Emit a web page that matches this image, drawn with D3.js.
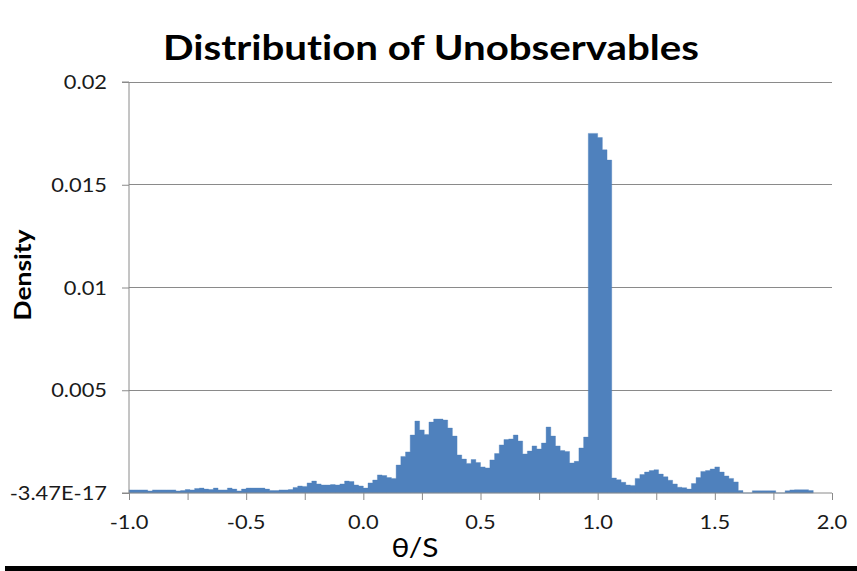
<!DOCTYPE html>
<html>
<head>
<meta charset="utf-8">
<script src="https://cdn.jsdelivr.net/npm/d3@7"></script>
<style>
  body { margin: 0; background: #fff; }
  svg { display: block; }
  text { font-variant-ligatures: none; font-feature-settings: "liga" 0, "clig" 0; }
</style>
</head>
<body>
<svg id="chart" width="857" height="571"></svg>
<script>
// Histogram bins of θ/S: left edge of the first bin and the bin width
const binStart = -1.0;
const binWidth = 0.02;

// Density per bin, in order from θ/S = -1.0
const density = [
  0.00015, 0.00015, 0.00015, 0.00015, 0.00010, 0.00015, 0.00015, 0.00015, 0.00015, 0.00015,
  0.00010, 0.00012, 0.00017, 0.00015, 0.00022, 0.00024, 0.00019, 0.00017, 0.00024, 0.00015,
  0.00015, 0.00024, 0.00019, 0.00010, 0.00019, 0.00024, 0.00024, 0.00024, 0.00024, 0.00019,
  0.00012, 0.00012, 0.00015, 0.00015, 0.00017, 0.00027, 0.00034, 0.00032, 0.00049, 0.00058,
  0.00044, 0.00039, 0.00039, 0.00041, 0.00039, 0.00044, 0.00058, 0.00056, 0.00039, 0.00034,
  0.00024, 0.00049, 0.00063, 0.00088, 0.00085, 0.00075, 0.00071, 0.00136, 0.00178, 0.00200,
  0.00282, 0.00350, 0.00307, 0.00285, 0.00345, 0.00360, 0.00360, 0.00355, 0.00316, 0.00277,
  0.00185, 0.00165, 0.00144, 0.00163, 0.00148, 0.00127, 0.00122, 0.00161, 0.00192, 0.00234,
  0.00260, 0.00263, 0.00282, 0.00253, 0.00190, 0.00204, 0.00229, 0.00214, 0.00243, 0.00321,
  0.00277, 0.00229, 0.00207, 0.00202, 0.00146, 0.00154, 0.00219, 0.00272, 0.01750, 0.01750,
  0.01730, 0.01670, 0.01620, 0.00073, 0.00065, 0.00052, 0.00039, 0.00037, 0.00071, 0.00090,
  0.00102, 0.00109, 0.00113, 0.00092, 0.00079, 0.00062, 0.00044, 0.00028, 0.00026, 0.00019,
  0.00046, 0.00075, 0.00105, 0.00109, 0.00117, 0.00127, 0.00102, 0.00083, 0.00071, 0.00054,
  0.00012, 0.00000, 0.00000, 0.00011, 0.00011, 0.00011, 0.00011, 0.00011, 0.00000, 0.00000,
  0.00011, 0.00015, 0.00016, 0.00016, 0.00016, 0.00012
];

// Axis ticks and labels
const xTicks = [-1.0, -0.75, -0.5, -0.25, 0.0, 0.25, 0.5, 0.75, 1.0, 1.25, 1.5, 1.75, 2.0];
const xLabels = ["-1.0", "-0.5", "0.0", "0.5", "1.0", "1.5", "2.0"];
const yTicks = [0, 0.005, 0.01, 0.015, 0.02];
const yLabels = ["-3.47E-17", "0.005", "0.01", "0.015", "0.02"];

const titleText = "Distribution of Unobservables";
const xTitle = "θ/S";
const yTitle = "Density";

const svg = d3.select("#chart");
const font = "Lato, 'Open Sans', sans-serif";
const sx = 1.15;            // horizontal widening of the lettering

const x = d3.scaleLinear().domain([-1, 2]).range([129, 832]);
const y = d3.scaleLinear().domain([0, 0.02]).range([493, 82]);

const gridColor = "#8a8a8a";
const barColor = "#4f81bd";
const textColor = "#1a1a1a";

// Text placed at (px, py) and widened horizontally by sx
function label(parent, px, py, str, anchor, size, weight, color) {
  return parent.append("text")
    .attr("transform", `translate(${px},${py}) scale(${sx},1)`)
    .attr("text-anchor", anchor)
    .attr("font-family", font)
    .attr("font-size", size)
    .attr("font-weight", weight || "normal")
    .attr("fill", color || textColor)
    .text(str);
}

// Horizontal gridlines (behind the bars)
svg.append("g")
  .selectAll("line")
  .data(yTicks.filter(d => d > 0))
  .join("line")
  .attr("x1", x(-1)).attr("x2", x(2))
  .attr("y1", d => y(d)).attr("y2", d => y(d))
  .attr("stroke", gridColor).attr("stroke-width", 1)
  .attr("shape-rendering", "crispEdges");

// Stepped columns with no gaps, built from the bins
const pts = density.map((v, i) => ({ t: binStart + i * binWidth, v }));
pts.push({ t: binStart + density.length * binWidth, v: density[density.length - 1] });

const area = d3.area()
  .x(d => x(d.t))
  .y0(y(0))
  .y1(d => y(d.v))
  .curve(d3.curveStepAfter);

svg.append("path")
  .datum(pts)
  .attr("d", area)
  .attr("fill", barColor)
  .attr("stroke", barColor)
  .attr("stroke-width", 0.6)
  .attr("stroke-opacity", 0.6);

// Y axis: line and outward ticks
const yAxis = d3.axisLeft(y).tickValues(yTicks).tickSize(7).tickFormat(() => "");
const gy = svg.append("g").attr("transform", `translate(${x(-1)},0)`).call(yAxis);
gy.select(".domain").attr("stroke", gridColor).attr("d", `M-7,${y(0.02)}H0V${y(0)}`);
gy.selectAll(".tick line").attr("stroke", gridColor);

const gyl = svg.append("g");
yTicks.forEach((v, i) => label(gyl, 107, y(v) + 7, yLabels[i], "end", 19));

// X axis: line, ticks every 0.25
const xAxis = d3.axisBottom(x).tickValues(xTicks).tickSize(7).tickFormat(() => "");
const gx = svg.append("g").attr("transform", `translate(0,${y(0)})`).call(xAxis);
gx.select(".domain").attr("stroke", gridColor).attr("d", `M${x(-1) - 7},0H${x(2)}`);
gx.selectAll(".tick line").attr("stroke", gridColor);

// X labels every 0.5
const gxl = svg.append("g");
xLabels.forEach(s => label(gxl, x(+s), 529, s, "middle", 19));

// Titles
label(svg, 431, 60, titleText, "middle", 35, "bold", "#000");
label(svg, 415, 557, xTitle, "middle", 26, "normal", "#000");

svg.append("text")
  .attr("transform", "translate(31,275) rotate(-90) scale(1.15,1)")
  .attr("text-anchor", "middle")
  .attr("font-family", font).attr("font-weight", "bold").attr("font-size", 23)
  .attr("fill", "#000")
  .text(yTitle);

// Heavy rule along the bottom edge
svg.append("rect")
  .attr("x", 5).attr("y", 566)
  .attr("width", 852).attr("height", 5)
  .attr("fill", "#000");
</script>
</body>
</html>
